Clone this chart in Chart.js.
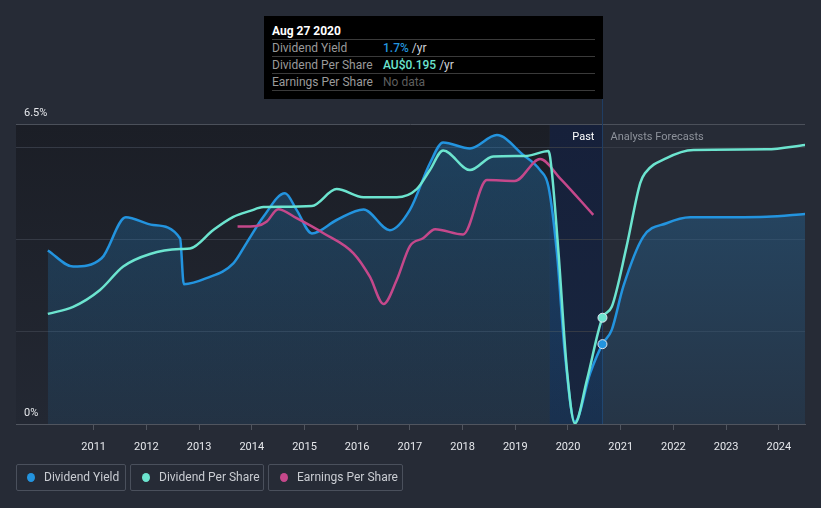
<!DOCTYPE html>
<html>
<head>
<meta charset="utf-8">
<script src="https://cdn.jsdelivr.net/npm/chart.js@4.4.1/dist/chart.umd.min.js"></script>
<style>
  html, body { margin: 0; padding: 0; background: #262b36; }
  #wrap { position: relative; width: 821px; height: 508px; font-family: Roboto, "Noto Sans", sans-serif; overflow: hidden; }
  #c { position: absolute; left: 0; top: 0; }
  .tip { position: absolute; left: 264px; top: 16px; width: 339px; height: 83px; background: #000; box-sizing: border-box; padding: 0 8px; }
  .tip .t { color: #fff; font-weight: bold; font-size: 12px; height: 23px; line-height: 31px; border-bottom: 1px solid #3a3a3a; }
  .tip .r { font-size: 12px; height: 16px; line-height: 17px; border-bottom: 1px solid #3a3a3a; color: #9a9a9a; position: relative; }
  .tip .r span.v { position: absolute; left: 111px; top: 0; }
  .lg { position: absolute; top: 464px; height: 27px; box-sizing: border-box; border: 1px solid #4a505c; border-radius: 2px; color: #c9ccd2; font-size: 12px; line-height: 25px; }
  .lg i { position: absolute; top: 8px; width: 8px; height: 9px; border-radius: 50%; }
</style>
</head>
<body>
<div id="wrap">
  <canvas id="c" width="821" height="508"></canvas>
  <div class="tip">
    <div class="t">Aug 27 2020</div>
    <div class="r">Dividend Yield<span class="v"><b style="color:#2394df;font-weight:500">1.7%</b> <span style="color:#cfd2d8">/yr</span></span></div>
    <div class="r">Dividend Per Share<span class="v"><b style="color:#6ce4cf;font-weight:500">AU$0.195</b> <span style="color:#cfd2d8">/yr</span></span></div>
    <div class="r">Earnings Per Share<span class="v" style="color:#5e5e5e">No data</span></div>
  </div>
  <div class="lg" style="left:16px;width:110px;"><i style="left:10px;background:#2394df"></i><span style="position:absolute;left:27px">Dividend Yield</span></div>
  <div class="lg" style="left:130px;width:134px;"><i style="left:11px;background:#6ce4cf"></i><span style="position:absolute;left:28px">Dividend Per Share</span></div>
  <div class="lg" style="left:268px;width:135px;"><i style="left:11px;background:#c5488b"></i><span style="position:absolute;left:28px">Earnings Per Share</span></div>
</div>
<script>
// ---- data ----
const yieldYears  = [2010.13, 2010.61, 2011.15, 2011.61, 2012.13, 2012.64, 2012.71, 2013.14, 2013.65, 2013.9, 2014.22, 2014.63, 2014.85, 2015.14, 2015.61, 2016.12, 2016.62, 2017.0, 2017.38, 2017.63, 2018.14, 2018.65, 2019.15, 2019.47, 2019.63, 2019.79, 2019.94, 2020.13, 2020.42, 2020.654, 2020.83, 2021.05, 2021.43, 2021.87, 2022.32, 2023.14, 2023.77, 2024.5];
const yieldValues = [3.76, 3.41, 3.59, 4.48, 4.31, 4.02, 3.03, 3.16, 3.48, 3.92, 4.49, 5.0, 4.64, 4.13, 4.42, 4.65, 4.2, 4.64, 5.65, 6.1, 5.97, 6.26, 5.83, 5.5, 5.14, 3.7, 1.54, 0.05, 1.1, 1.73, 2.04, 2.98, 4.06, 4.35, 4.48, 4.48, 4.49, 4.55];

const dpsYears  = [2010.13, 2010.61, 2011.12, 2011.56, 2012.07, 2012.64, 2012.83, 2013.27, 2013.65, 2013.97, 2014.22, 2015.14, 2015.61, 2016.12, 2016.75, 2017.13, 2017.38, 2017.63, 2018.14, 2018.58, 2019.22, 2019.63, 2019.69, 2019.82, 2019.98, 2020.13, 2020.36, 2020.654, 2020.83, 2021.11, 2021.37, 2021.46, 2021.87, 2022.38, 2023.77, 2024.5];
const dpsValues = [0.202, 0.215, 0.246, 0.289, 0.312, 0.321, 0.322, 0.356, 0.380, 0.391, 0.398, 0.400, 0.431, 0.416, 0.416, 0.431, 0.466, 0.502, 0.466, 0.491, 0.492, 0.501, 0.466, 0.314, 0.099, 0.001, 0.081, 0.195, 0.215, 0.325, 0.442, 0.460, 0.488, 0.503, 0.504, 0.512];

const epsYears  = [2013.73, 2014.09, 2014.28, 2014.5, 2014.85, 2015.36, 2015.93, 2016.24, 2016.5, 2016.75, 2017.0, 2017.25, 2017.48, 2018.01, 2018.46, 2018.99, 2019.47, 2019.85, 2020.48];
const epsValues = [0.658, 0.660, 0.674, 0.716, 0.686, 0.636, 0.569, 0.491, 0.400, 0.480, 0.593, 0.619, 0.649, 0.632, 0.813, 0.810, 0.883, 0.819, 0.697];

const xTickYears   = [2011, 2012, 2013, 2014, 2015, 2016, 2017, 2018, 2019, 2020, 2021, 2022, 2023, 2024];
const yGridValues  = [0, 2, 4, 6, 6.5];
const yTickValues  = [6.5, 0];
const yTickLabels  = ['6.5%', '0%'];
const pastStart = 2019.654, pastEnd = 2020.654;  // "Past" band (last 12 months) and tooltip date

const toPts = (xs, ys) => xs.map((x, i) => ({ x: x, y: ys[i] }));
const BLUE = '#2394df', TEAL = '#6ce4cf', PINK = '#c5488b';

const bgPlugin = {
  id: 'bg',
  beforeDraw(chart) {
    const { ctx, chartArea: a, scales } = chart;
    ctx.save();
    ctx.fillStyle = '#262b36';
    ctx.fillRect(0, 0, chart.width, chart.height);
    const x0 = scales.x.getPixelForValue(pastStart);
    const x1 = scales.x.getPixelForValue(pastEnd);
    const g = ctx.createLinearGradient(0, a.top, 0, a.bottom);
    g.addColorStop(0, '#1b1e26');
    g.addColorStop(1, '#232833');
    ctx.fillStyle = g;
    ctx.fillRect(a.left, a.top, x0 - a.left, a.bottom - a.top);
    const g2 = ctx.createLinearGradient(0, a.top, 0, a.bottom);
    g2.addColorStop(0, '#16203a');
    g2.addColorStop(1, '#18263f');
    ctx.fillStyle = g2;
    ctx.fillRect(x0, a.top, x1 - x0, a.bottom - a.top);
    ctx.restore();
  },
  beforeDatasetsDraw(chart) {
    const { ctx, chartArea: a, scales } = chart;
    ctx.save();
    const x1 = scales.x.getPixelForValue(pastEnd);
    ctx.strokeStyle = '#1f3d63';
    ctx.lineWidth = 1;
    ctx.beginPath();
    ctx.moveTo(Math.round(x1) + 0.5, 99);
    ctx.lineTo(Math.round(x1) + 0.5, a.bottom);
    ctx.stroke();
    ctx.restore();
  },
  afterDraw(chart) {
    const { ctx, chartArea: a, scales } = chart;
    ctx.save();
    const x1 = scales.x.getPixelForValue(pastEnd);
    ctx.font = '11px Roboto, "Noto Sans", sans-serif';
    ctx.textBaseline = 'middle';
    ctx.fillStyle = '#e6e8ec';
    yTickValues.forEach((v, i) => {
      ctx.textAlign = 'left';
      ctx.fillText(yTickLabels[i], 24, scales.y.getPixelForValue(v) - 11);
    });
    ctx.textAlign = 'right';
    ctx.fillStyle = '#ffffff';
    ctx.fillText('Past', x1 - 8, a.top + 13);
    ctx.textAlign = 'left';
    ctx.fillStyle = '#8d929b';
    ctx.fillText('Analysts Forecasts', x1 + 8, a.top + 13);
    ctx.restore();
  }
};

const hiPoint = (c) => (c.raw && c.raw.x === pastEnd) ? 4.5 : 0;

new Chart(document.getElementById('c'), {
  type: 'line',
  data: {
    datasets: [
      {
        label: 'Dividend Yield', data: toPts(yieldYears, yieldValues), yAxisID: 'y',
        borderColor: BLUE, borderWidth: 2.5, cubicInterpolationMode: 'monotone',
        fill: 'origin',
        backgroundColor: (c) => {
          const a = c.chart.chartArea; if (!a) return 'rgba(35,148,223,0.2)';
          const g = c.chart.ctx.createLinearGradient(0, a.top, 0, a.bottom);
          g.addColorStop(0, 'rgba(35,140,215,0.32)');
          g.addColorStop(1, 'rgba(35,140,215,0.10)');
          return g;
        },
        pointRadius: hiPoint, pointBackgroundColor: BLUE, pointBorderColor: '#dfe7f0', pointBorderWidth: 1, order: 3
      },
      {
        label: 'Dividend Per Share', data: toPts(dpsYears, dpsValues), yAxisID: 'yDps',
        borderColor: TEAL, borderWidth: 2.5, cubicInterpolationMode: 'monotone', fill: false,
        pointRadius: hiPoint, pointBackgroundColor: TEAL, pointBorderColor: '#dfe7f0', pointBorderWidth: 1, order: 1
      },
      {
        label: 'Earnings Per Share', data: toPts(epsYears, epsValues), yAxisID: 'yEps',
        borderColor: PINK, borderWidth: 2.5, cubicInterpolationMode: 'monotone', fill: false,
        pointRadius: 0, order: 2
      }
    ]
  },
  options: {
    responsive: false,
    animation: false,
    layout: { padding: { left: 16, right: 16, top: 124, bottom: 0 } },
    plugins: { legend: { display: false }, tooltip: { enabled: false } },
    scales: {
      x: {
        type: 'linear', min: 2009.526, max: 2024.497,
        afterBuildTicks: (s) => { s.ticks = xTickYears.map(v => ({ value: v })); },
        afterFit: (s) => { s.height = 84; },
        grid: { drawOnChartArea: false, drawTicks: true, tickLength: 6, tickColor: '#50555f' },
        border: { display: true, color: '#50555f', width: 1 },
        ticks: { color: '#e6e8ec', font: { family: 'Roboto', size: 11 }, padding: 11, maxRotation: 0, autoSkip: false, callback: (v) => String(v) }
      },
      y: {
        min: 0, max: 6.5,
        afterBuildTicks: (s) => { s.ticks = yGridValues.map(v => ({ value: v })); },
        afterFit: (s) => { s.width = 0; },
        grid: { color: (c) => c.tick && c.tick.value === 6.5 ? '#4b505a' : '#353a45', drawTicks: false, lineWidth: 1 },
        border: { display: false },
        ticks: { display: false }
      },
      yDps: { display: false, min: 0, max: 0.5505 },
      yEps: { display: false, min: 0, max: 1.0 }
    }
  },
  plugins: [bgPlugin]
});
</script>
</body>
</html>
